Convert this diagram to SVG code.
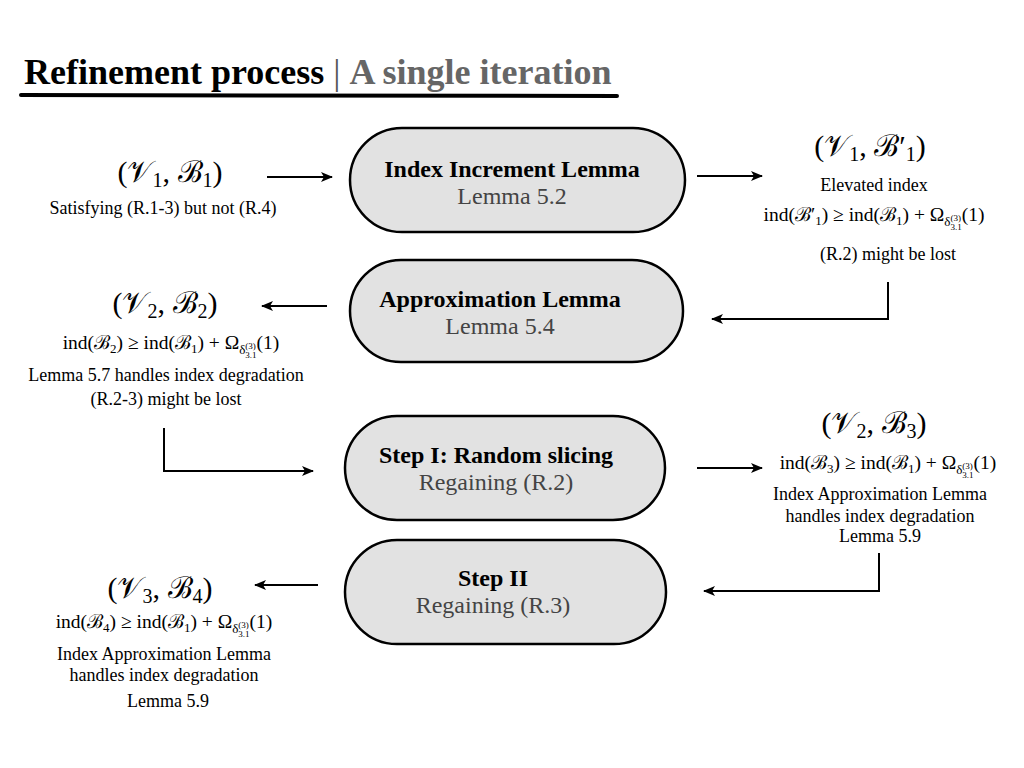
<svg xmlns="http://www.w3.org/2000/svg" width="1024" height="768" viewBox="0 0 1024 768">
<defs>
<marker id="ah" viewBox="0 0 12 10" refX="11" refY="5" markerWidth="12" markerHeight="10" markerUnits="userSpaceOnUse" orient="auto">
<path d="M0,0 L12,5 L0,10 L3,5 Z" fill="#000"/>
</marker>
<style>
.t{font-family:"Liberation Serif","Times New Roman",Tinos,Times,serif;fill:#000}
.m{font-family:"Liberation Serif","Times New Roman",Times,serif;fill:#000}
.pill{fill:#e2e2e2;stroke:#000;stroke-width:2.5}
.b{font-weight:bold;font-size:24px}
.g{fill:#444;font-size:24px}
.c{fill:none;stroke:#000;stroke-width:2}
.pair{font-size:30px}
.f{font-size:19.5px}
.s{font-size:18px}
</style>
</defs>
<rect width="1024" height="768" fill="#fff"/>
<g id="title">
<text class="t" x="24" y="84" font-size="36" font-weight="bold">Refinement process<tspan fill="#555" font-weight="normal"> | </tspan><tspan fill="#666">A single iteration</tspan></text>
<line x1="21" y1="95" x2="617" y2="96" stroke="#000" stroke-width="4" stroke-linecap="round"/>
</g>
<g id="n1"><rect class="pill" x="350" y="128" width="335" height="104" rx="52"/>
<text class="t b" x="512" y="177" text-anchor="middle">Index Increment Lemma</text>
<text class="t g" x="512" y="204" text-anchor="middle">Lemma 5.2</text></g>
<g id="n2"><rect class="pill" x="350" y="260" width="333" height="102" rx="51"/>
<text class="t b" x="500" y="307" text-anchor="middle">Approximation Lemma</text>
<text class="t g" x="500" y="334" text-anchor="middle">Lemma 5.4</text></g>
<g id="n3"><rect class="pill" x="345" y="416" width="320" height="104" rx="52"/>
<text class="t b" x="496" y="463" text-anchor="middle">Step I: Random slicing</text>
<text class="t g" x="496" y="490" text-anchor="middle">Regaining (R.2)</text></g>
<g id="n4"><rect class="pill" x="345" y="540" width="321" height="104" rx="52"/>
<text class="t b" x="493" y="586" text-anchor="middle">Step II</text>
<text class="t g" x="493" y="613" text-anchor="middle">Regaining (R.3)</text></g>

<g id="s1">
<text class="m pair" x="170" y="182" text-anchor="middle">(𝒱<tspan font-size="20" dy="5">1</tspan><tspan dy="-5">, ℬ</tspan><tspan font-size="20" dy="5">1</tspan><tspan dy="-5">)</tspan></text>
<text class="t s" x="163" y="214" text-anchor="middle">Satisfying (R.1-3) but not (R.4)</text>
</g>
<g id="s2">
<text class="m pair" x="870" y="156" text-anchor="middle">(𝒱<tspan font-size="20" dy="5">1</tspan><tspan dy="-5">, ℬ′</tspan><tspan font-size="20" dy="5">1</tspan><tspan dy="-5">)</tspan></text>
<text class="t s" x="874" y="191" text-anchor="middle">Elevated index</text>
<text class="m f" x="874" y="221" text-anchor="middle">ind(ℬ′<tspan font-size="13" dy="4">1</tspan><tspan dy="-4">) ≥ ind(ℬ</tspan><tspan font-size="13" dy="4">1</tspan><tspan dy="-4">) + Ω</tspan><tspan font-size="13" dy="5">δ</tspan><tspan font-size="9" dy="-5">(3)</tspan><tspan font-size="9" dx="-10.5" dy="9">3.1</tspan><tspan dy="-9">(1)</tspan></text>
<text class="t s" x="888" y="260" text-anchor="middle">(R.2) might be lost</text>
</g>
<g id="s3">
<text class="m pair" x="165" y="313" text-anchor="middle">(𝒱<tspan font-size="20" dy="5">2</tspan><tspan dy="-5">, ℬ</tspan><tspan font-size="20" dy="5">2</tspan><tspan dy="-5">)</tspan></text>
<text class="m f" x="171" y="349" text-anchor="middle">ind(ℬ<tspan font-size="13" dy="4">2</tspan><tspan dy="-4">) ≥ ind(ℬ</tspan><tspan font-size="13" dy="4">1</tspan><tspan dy="-4">) + Ω</tspan><tspan font-size="13" dy="5">δ</tspan><tspan font-size="9" dy="-5">(3)</tspan><tspan font-size="9" dx="-10.5" dy="9">3.1</tspan><tspan dy="-9">(1)</tspan></text>
<text class="t s" x="166" y="381" text-anchor="middle">Lemma 5.7 handles index degradation</text>
<text class="t s" x="166" y="405" text-anchor="middle">(R.2-3) might be lost</text>
</g>
<g id="s4">
<text class="m pair" x="874" y="433" text-anchor="middle">(𝒱<tspan font-size="20" dy="5">2</tspan><tspan dy="-5">, ℬ</tspan><tspan font-size="20" dy="5">3</tspan><tspan dy="-5">)</tspan></text>
<text class="m f" x="888" y="469" text-anchor="middle">ind(ℬ<tspan font-size="13" dy="4">3</tspan><tspan dy="-4">) ≥ ind(ℬ</tspan><tspan font-size="13" dy="4">1</tspan><tspan dy="-4">) + Ω</tspan><tspan font-size="13" dy="5">δ</tspan><tspan font-size="9" dy="-5">(3)</tspan><tspan font-size="9" dx="-10.5" dy="9">3.1</tspan><tspan dy="-9">(1)</tspan></text>
<text class="t s" x="880" y="500" text-anchor="middle">Index Approximation Lemma</text>
<text class="t s" x="880" y="522" text-anchor="middle">handles index degradation</text>
<text class="t s" x="880" y="542" text-anchor="middle">Lemma 5.9</text>
</g>
<g id="s5">
<text class="m pair" x="160" y="598" text-anchor="middle">(𝒱<tspan font-size="20" dy="5">3</tspan><tspan dy="-5">, ℬ</tspan><tspan font-size="20" dy="5">4</tspan><tspan dy="-5">)</tspan></text>
<text class="m f" x="164" y="628" text-anchor="middle">ind(ℬ<tspan font-size="13" dy="4">4</tspan><tspan dy="-4">) ≥ ind(ℬ</tspan><tspan font-size="13" dy="4">1</tspan><tspan dy="-4">) + Ω</tspan><tspan font-size="13" dy="5">δ</tspan><tspan font-size="9" dy="-5">(3)</tspan><tspan font-size="9" dx="-10.5" dy="9">3.1</tspan><tspan dy="-9">(1)</tspan></text>
<text class="t s" x="164" y="660" text-anchor="middle">Index Approximation Lemma</text>
<text class="t s" x="164" y="681" text-anchor="middle">handles index degradation</text>
<text class="t s" x="168" y="707" text-anchor="middle">Lemma 5.9</text>
</g>

<g id="connectors">
<line class="c" x1="267" y1="177" x2="332" y2="177" marker-end="url(#ah)"/>
<line class="c" x1="697" y1="176" x2="762" y2="176" marker-end="url(#ah)"/>
<polyline class="c" points="888,282 888,319 712,319" marker-end="url(#ah)"/>
<line class="c" x1="327" y1="306" x2="262" y2="306" marker-end="url(#ah)"/>
<polyline class="c" points="164,428 164,471 313,471" marker-end="url(#ah)"/>
<line class="c" x1="697" y1="468" x2="762" y2="468" marker-end="url(#ah)"/>
<polyline class="c" points="879,553 879,591 704,591" marker-end="url(#ah)"/>
<line class="c" x1="318" y1="585" x2="255" y2="585" marker-end="url(#ah)"/>
</g>
</svg>
